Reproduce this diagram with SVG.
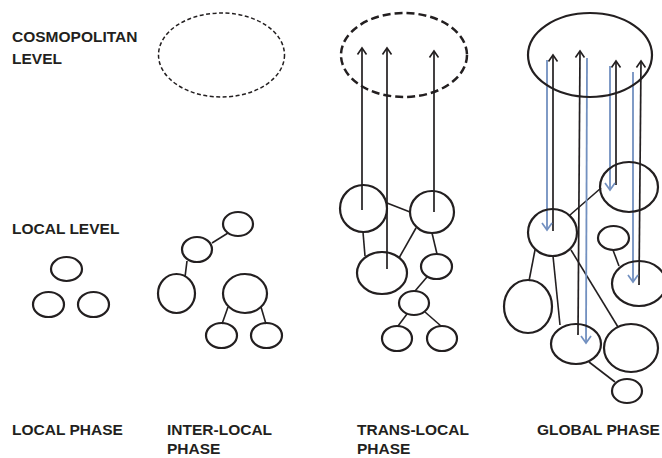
<svg xmlns="http://www.w3.org/2000/svg" width="662" height="458" viewBox="0 0 662 458">
<style>
  .lbl { font-family: "Liberation Sans", Arial, sans-serif; font-weight: bold; font-size: 15.5px; fill: #231f20; }
  .node { fill: none; stroke: #231f20; stroke-width: 2.2; }
  .edge { stroke: #231f20; stroke-width: 1.6; fill: none; }
  .up { stroke: #231f20; stroke-width: 1.7; fill: none; marker-end: url(#headK); }
  .down { stroke: #7290c0; stroke-width: 1.8; fill: none; marker-end: url(#headB); }
</style>
<defs>
  <marker id="headK" markerUnits="userSpaceOnUse" markerWidth="14" markerHeight="14" viewBox="-8 -7 10 14" refX="0" refY="0" orient="auto">
    <path d="M-6.5,-4.5 L0,0 L-6.5,4.5" fill="none" stroke="#231f20" stroke-width="1.6"/>
  </marker>
  <marker id="headB" markerUnits="userSpaceOnUse" markerWidth="14" markerHeight="14" viewBox="-8 -7 10 14" refX="0" refY="0" orient="auto">
    <path d="M-7,-5 L0,0 L-7,5" fill="none" stroke="#7290c0" stroke-width="1.7"/>
  </marker>
</defs>
<rect width="662" height="458" fill="#ffffff"/>

<g id="labels">
  <text class="lbl" x="12" y="42">COSMOPOLITAN</text>
  <text class="lbl" x="12" y="64">LEVEL</text>
  <text class="lbl" x="12" y="234">LOCAL LEVEL</text>
  <text class="lbl" x="12" y="435">LOCAL PHASE</text>
  <text class="lbl" x="167" y="435">INTER-LOCAL</text>
  <text class="lbl" x="167" y="454">PHASE</text>
  <text class="lbl" x="357" y="435">TRANS-LOCAL</text>
  <text class="lbl" x="357" y="454">PHASE</text>
  <text class="lbl" x="537" y="435">GLOBAL PHASE</text>
</g>

<g id="connectors">
  <!-- inter-local -->
  <line class="edge" x1="212" y1="243" x2="228" y2="233"/>
  <line class="edge" x1="187" y1="261" x2="185" y2="277"/>
  <line class="edge" x1="228" y1="307" x2="222" y2="324"/>
  <line class="edge" x1="261" y1="307" x2="266" y2="324"/>
  <!-- trans-local -->
  <line class="edge" x1="387" y1="203" x2="410" y2="212"/>
  <line class="edge" x1="363" y1="232" x2="365" y2="256"/>
  <line class="edge" x1="416" y1="228" x2="399" y2="258"/>
  <line class="edge" x1="432" y1="233" x2="437" y2="254"/>
  <line class="edge" x1="427" y1="277" x2="415" y2="291"/>
  <line class="edge" x1="407" y1="314" x2="398" y2="326"/>
  <line class="edge" x1="425" y1="312" x2="441" y2="326"/>
  <line class="up" x1="362" y1="210" x2="362" y2="48"/>
  <line class="up" x1="387" y1="269" x2="387" y2="48"/>
  <line class="up" x1="434" y1="212" x2="434" y2="51"/>
  <!-- global -->
  <line class="edge" x1="570" y1="215" x2="601" y2="188"/>
  <line class="edge" x1="535" y1="250" x2="529" y2="281"/>
  <line class="edge" x1="553" y1="256" x2="560" y2="325"/>
  <line class="edge" x1="571" y1="250" x2="618" y2="327"/>
  <line class="edge" x1="613" y1="250" x2="619" y2="266"/>
  <line class="edge" x1="589" y1="362" x2="615" y2="382"/>
  <line class="up" x1="553" y1="231" x2="553" y2="55"/>
  <line class="up" x1="578" y1="335" x2="580" y2="51"/>
  <line class="up" x1="616" y1="185" x2="616" y2="61"/>
  <line class="up" x1="639" y1="285" x2="641" y2="61"/>
  <line class="down" x1="547" y1="60" x2="547" y2="230"/>
  <line class="down" x1="587" y1="58" x2="586" y2="343"/>
  <line class="down" x1="610" y1="66" x2="610" y2="190"/>
  <line class="down" x1="633" y1="72" x2="633" y2="282"/>
</g>

<g id="cosmo-inter">
  <ellipse cx="221.5" cy="55" rx="63" ry="42" fill="none" stroke="#231f20" stroke-width="1.5" stroke-dasharray="4 2.5"/>
</g>
<g id="cosmo-trans">
  <ellipse cx="404" cy="55" rx="63" ry="42" fill="none" stroke="#231f20" stroke-width="2.5" stroke-dasharray="8 4"/>
</g>
<g id="cosmo-global">
  <ellipse cx="590" cy="55" rx="62" ry="42" class="node" stroke-width="2.5"/>
</g>

<g id="local-1"><ellipse class="node" cx="66.5" cy="269" rx="15.5" ry="12"/></g>
<g id="local-2"><ellipse class="node" cx="48.5" cy="304.5" rx="15.5" ry="12.5"/></g>
<g id="local-3"><ellipse class="node" cx="93.5" cy="304.5" rx="15.5" ry="12.5"/></g>

<g id="inter-1"><ellipse class="node" cx="238" cy="224" rx="15" ry="12"/></g>
<g id="inter-2"><ellipse class="node" cx="197" cy="249.5" rx="15" ry="12.5"/></g>
<g id="inter-3"><ellipse class="node" cx="176.5" cy="293.5" rx="18.5" ry="19.5"/></g>
<g id="inter-4"><ellipse class="node" cx="245" cy="293.5" rx="22" ry="19.5"/></g>
<g id="inter-5"><ellipse class="node" cx="221.5" cy="335.5" rx="15.5" ry="12.5"/></g>
<g id="inter-6"><ellipse class="node" cx="266.5" cy="335.5" rx="15.5" ry="12.5"/></g>

<g id="trans-1"><ellipse class="node" cx="363.5" cy="208.5" rx="23.5" ry="23.5"/></g>
<g id="trans-2"><ellipse class="node" cx="432" cy="212" rx="22" ry="21"/></g>
<g id="trans-3"><ellipse class="node" cx="382" cy="273" rx="25" ry="21"/></g>
<g id="trans-4"><ellipse class="node" cx="436.5" cy="266.5" rx="15.5" ry="12.5"/></g>
<g id="trans-5"><ellipse class="node" cx="414" cy="303" rx="15" ry="12"/></g>
<g id="trans-6"><ellipse class="node" cx="397" cy="338.5" rx="15" ry="12.5"/></g>
<g id="trans-7"><ellipse class="node" cx="442" cy="338.5" rx="15" ry="12.5"/></g>

<g id="global-1"><ellipse class="node" cx="629" cy="187" rx="29" ry="25"/></g>
<g id="global-2"><ellipse class="node" cx="552.5" cy="232.5" rx="24.5" ry="23.5"/></g>
<g id="global-3"><ellipse class="node" cx="613.5" cy="238" rx="15.5" ry="12"/></g>
<g id="global-4"><ellipse class="node" cx="639" cy="283.5" rx="27" ry="22.5"/></g>
<g id="global-5"><ellipse class="node" cx="528" cy="306.5" rx="24" ry="26.5"/></g>
<g id="global-6"><ellipse class="node" cx="576" cy="344" rx="25" ry="20"/></g>
<g id="global-7"><ellipse class="node" cx="631" cy="348" rx="27" ry="24"/></g>
<g id="global-8"><ellipse class="node" cx="627" cy="391" rx="15" ry="12"/></g>
</svg>
